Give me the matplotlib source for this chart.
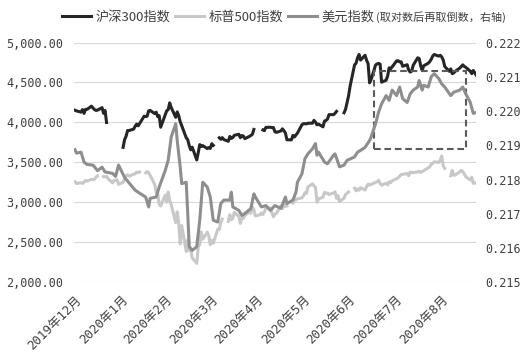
import numpy as np
import pandas as pd
import matplotlib
matplotlib.use('Agg')
import matplotlib.pyplot as plt
import matplotlib.dates as mdates
from matplotlib.patches import Rectangle
from matplotlib.ticker import FuncFormatter, MultipleLocator

nan = np.nan

# dias habiles (union de calendarios China / EEUU)
days = pd.bdate_range('2020-01-02', '2020-09-25')

# 沪深300, semana por semana (nan = feriado en China)
hs300 = [
    4152, 4144,
    4129, 4161, 4113, 4164, 4163,
    4204, 4180, 4160, 4150, 4154,
    4185, 4114, 4149, 3999, nan,
    nan, nan, nan, nan, nan,
    3688, 3785, 3828, 3899, 3899,
    3916, 3952, 3979, 3958, 3987,
    4078, 4073, 4078, 4145, 4150,
    4111, 4128, 4073, 4085, 3940,
    4091, 4145, 4160, 4245, 4187,
    4064, 4132, 4084, 4008, 3960,
    3808, 3785, 3710, 3657, 3690,
    3531, 3622, 3723, 3699, 3710,
    3673, 3686, 3675, 3734, 3713,
    nan, 3808, 3789, 3810, 3786,
    3764, 3825, 3800, 3811, 3839,
    3852, 3809, 3836, 3830, 3797,
    3825, 3837, 3850, 3912, nan,
    nan, nan, 3906, 3897, 3938,
    3940, 3935, 3937, 3883, 3876,
    3893, 3920, 3897, 3868, 3783,
    3782, 3838, 3818, 3843, 3867,
    3971, 3984, 3984, 3982, 3990,
    3991, 4026, 4004, 3970, 3979,
    3945, 4018, 4025, 4042, 4098,
    4097, 4114, 4138, nan, nan,
    4121, 4164, 4248, 4330, 4450,
    4720, 4740, 4810, 4850, 4780,
    4840, 4778, 4737, 4495, 4536,
    4719, 4732, 4739, 4729, 4504,
    4528, 4580, 4683, 4671, 4695,
    4770, 4772, 4757, 4758, 4703,
    4722, 4656, 4630, 4641, 4714,
    4809, 4800, 4709, 4649, 4709,
    4740, 4760, 4790, 4830, 4850,
    4830, 4840, 4820, 4780, 4700,
    4640, 4670, 4610, 4620, 4640,
    4680, 4700, 4720, 4700, 4690,
    4640, 4610, 4650, 4620, 4590,
]

# 标普500 (nan = feriado en EEUU)
sp500 = [
    3258, 3235,
    3246, 3237, 3253, 3275, 3265,
    3288, 3283, 3289, 3317, 3330,
    nan, 3321, 3321, 3326, 3295,
    3244, 3276, 3273, 3284, 3226,
    3249, 3298, 3334, 3345, 3328,
    3352, 3358, 3379, 3374, 3380,
    nan, 3370, 3386, 3373, 3338,
    3226, 3128, 3116, 2979, 2954,
    3090, 3003, 3130, 3024, 2972,
    2747, 2882, 2741, 2481, 2711,
    2386, 2529, 2398, 2409, 2305,
    2237, 2447, 2476, 2630, 2541,
    2627, 2585, 2471, 2527, 2489,
    2664, 2659, 2750, 2790, nan,
    2762, 2846, 2784, 2800, 2875,
    2823, 2737, 2799, 2798, 2837,
    2878, 2863, 2940, 2912, 2831,
    2843, 2868, 2849, 2881, 2930,
    2930, 2870, 2820, 2852, 2864,
    2954, 2922, 2972, 2949, 2955,
    nan, 2992, 3036, 3030, 3044,
    3056, 3081, 3122, 3112, 3194,
    3232, 3207, 3190, 3002, 3041,
    3067, 3125, 3114, 3116, 3098,
    3117, 3131, 3050, 3084, 3009,
    3053, 3100, 3116, 3130, nan,
    3179, 3145, 3169, 3152, 3185,
    3155, 3197, 3227, 3216, 3224,
    3251, 3257, 3276, 3236, 3216,
    3239, 3218, 3258, 3246, 3271,
    3295, 3306, 3327, 3349, 3351,
    3360, 3333, 3380, 3373, 3373,
    3381, 3389, 3375, 3385, 3397,
    3431, 3443, 3479, 3485, 3508,
    3500, 3527, 3580, 3455, 3427,
    nan, 3332, 3399, 3340, 3341,
    3384, 3401, 3385, 3357, 3320,
    3281, 3315, 3237, 3247, 3240,
]

# 美元指数 (1/ln), eje derecho
dxy_dates = [
    '2020-01-02', '2020-01-03', '2020-01-06', '2020-01-08', '2020-01-10', '2020-01-14',
    '2020-01-17', '2020-01-20', '2020-01-22', '2020-01-27', '2020-01-29', '2020-01-31',
    '2020-02-04', '2020-02-07', '2020-02-11', '2020-02-14', '2020-02-18', '2020-02-20',
    '2020-02-21', '2020-02-25', '2020-02-27',
    '2020-03-02', '2020-03-04', '2020-03-06', '2020-03-09', '2020-03-10', '2020-03-12',
    '2020-03-13', '2020-03-16', '2020-03-17', '2020-03-18', '2020-03-20', '2020-03-23',
    '2020-03-25', '2020-03-27', '2020-03-30',
    '2020-04-01', '2020-04-03', '2020-04-06', '2020-04-08', '2020-04-10', '2020-04-14',
    '2020-04-15', '2020-04-16', '2020-04-20', '2020-04-22', '2020-04-24', '2020-04-28',
    '2020-04-30',
    '2020-05-01', '2020-05-05', '2020-05-08', '2020-05-11', '2020-05-14', '2020-05-18',
    '2020-05-21', '2020-05-22', '2020-05-26', '2020-05-28', '2020-05-29',
    '2020-06-01', '2020-06-03', '2020-06-05', '2020-06-08', '2020-06-10', '2020-06-11',
    '2020-06-12', '2020-06-16', '2020-06-18', '2020-06-22', '2020-06-23', '2020-06-26',
    '2020-06-29',
    '2020-07-01', '2020-07-06', '2020-07-08', '2020-07-10', '2020-07-13', '2020-07-16',
    '2020-07-17', '2020-07-20', '2020-07-22', '2020-07-24', '2020-07-27', '2020-07-29',
    '2020-07-31',
    '2020-08-03', '2020-08-05', '2020-08-07', '2020-08-10', '2020-08-12', '2020-08-14',
    '2020-08-17', '2020-08-18', '2020-08-20', '2020-08-21', '2020-08-24', '2020-08-26',
    '2020-08-28', '2020-08-31',
    '2020-09-02', '2020-09-04', '2020-09-08', '2020-09-10', '2020-09-14', '2020-09-16',
    '2020-09-18', '2020-09-21', '2020-09-23', '2020-09-25',
]
dxy_inv = [
    0.21887, 0.21877, 0.21880, 0.21851, 0.21844, 0.21842,
    0.21826, 0.21836, 0.21822, 0.21818, 0.21809, 0.21842,
    0.21806, 0.21790, 0.21769, 0.21760, 0.21749, 0.21720,
    0.21745, 0.21749, 0.21778,
    0.21826, 0.21856, 0.21924, 0.21963, 0.21914, 0.21837,
    0.21788, 0.21792, 0.21701, 0.21604, 0.21593, 0.21604,
    0.21681, 0.21792, 0.21778,
    0.21749, 0.21681, 0.21676, 0.21730, 0.21740, 0.21740,
    0.21763, 0.21720, 0.21710, 0.21695, 0.21701, 0.21715,
    0.21758,
    0.21749, 0.21720, 0.21724, 0.21710, 0.21724, 0.21716,
    0.21749, 0.21730, 0.21740, 0.21763, 0.21792,
    0.21817, 0.21861, 0.21875, 0.21890, 0.21905, 0.21871,
    0.21880, 0.21851, 0.21846, 0.21871, 0.21875, 0.21837,
    0.21842,
    0.21856, 0.21866, 0.21880, 0.21885, 0.21894, 0.21914,
    0.21924, 0.21963, 0.21997, 0.22021, 0.22045, 0.22031,
    0.22061,
    0.22045, 0.22070, 0.22036, 0.22025, 0.22050, 0.22061,
    0.22070, 0.22089, 0.22061, 0.22075, 0.22070, 0.22100,
    0.22109, 0.22095,
    0.22079, 0.22070, 0.22045, 0.22055, 0.22061, 0.22070,
    0.22050, 0.22025, 0.21993, 0.21996,
]

tick_dates = ['2020-01-02', '2020-02-02', '2020-03-02', '2020-04-02', '2020-05-02',
              '2020-06-02', '2020-07-02', '2020-08-02', '2020-09-02']
tick_labels = ['2019年12月', '2020年1月', '2020年2月', '2020年3月', '2020年4月',
               '2020年5月', '2020年6月', '2020年7月', '2020年8月']

# recuadro punteado (eje derecho)
box_start, box_end = '2020-07-19', '2020-09-18'
box_low, box_high = 0.21889, 0.22117

mono = ['DejaVu Sans Mono', 'Noto Sans CJK SC']
cjk = ['Noto Sans CJK SC', 'DejaVu Sans']
txt_color = '#404040'

fig = plt.figure(figsize=(5.24, 3.6), dpi=100)
W, H = 524.0, 360.0
ax = fig.add_axes([73.5 / W, 1 - 282.3 / H, (476.3 - 73.5) / W, (282.3 - 42.5) / H])
ax2 = ax.twinx()

l1, = ax.plot(days, hs300, color='#262626', lw=2.2)
l2, = ax.plot(days, sp500, color='#c8c8c8', lw=2.2)
l3, = ax2.plot(pd.to_datetime(dxy_dates), dxy_inv, color='#8e8e8e', lw=2.2)

x0 = mdates.date2num(pd.Timestamp(box_start))
x1 = mdates.date2num(pd.Timestamp(box_end))
ax2.add_patch(Rectangle((x0, box_low), x1 - x0, box_high - box_low, fill=False,
                        ec='#5a5a5a', lw=1.5, ls=(0, (3.2, 1.8))))

ax.set_xlim(pd.Timestamp('2020-01-01'), pd.Timestamp('2020-09-25'))
ax.set_ylim(2000, 5000)
ax2.set_ylim(0.215, 0.222)
ax.yaxis.set_major_locator(MultipleLocator(500))
ax2.yaxis.set_major_locator(MultipleLocator(0.001))
ax.yaxis.set_major_formatter(FuncFormatter(lambda v, p: f'{v:,.2f}'))
ax2.yaxis.set_major_formatter(FuncFormatter(lambda v, p: f'{v:.3f}'))

ax.set_xticks(pd.to_datetime(tick_dates))
ax.set_xticklabels(tick_labels, rotation=45, ha='right', va='top',
                   rotation_mode='anchor', family=mono, fontsize=9, color=txt_color)

ax.yaxis.grid(True, color='#d9d9d9', lw=0.8)
ax.set_axisbelow(True)
for a in (ax, ax2):
    for s in a.spines.values():
        s.set_visible(False)
ax.tick_params(axis='x', length=0, pad=8)
ax.tick_params(axis='y', length=0, pad=7.5, labelsize=8.5, labelcolor=txt_color)
ax2.tick_params(axis='y', length=0, pad=6.5, labelsize=8.5, labelcolor=txt_color)
for lab in ax.get_yticklabels() + ax2.get_yticklabels():
    lab.set_family(mono)

leg = fig.legend([l1, l2, l3], ['沪深300指数', '标普500指数', '美元指数'],
                 loc='center left', bbox_to_anchor=(62 / W, 1 - 17 / H),
                 ncol=3, frameon=False, borderpad=0, borderaxespad=0,
                 handlelength=2.2, handletextpad=0.35, columnspacing=0.35,
                 prop={'family': cjk, 'size': 9.5})
for t in leg.get_texts():
    t.set_color(txt_color)

fig.canvas.draw()
bb = leg.get_texts()[2].get_window_extent()
fig.text((bb.x1 + 1) / W, 1 - 17.5 / H, '(取对数后再取倒数，右轴)', family=cjk,
         fontsize=8, color=txt_color, va='center', ha='left')

fig.savefig('out.png', dpi=100)
